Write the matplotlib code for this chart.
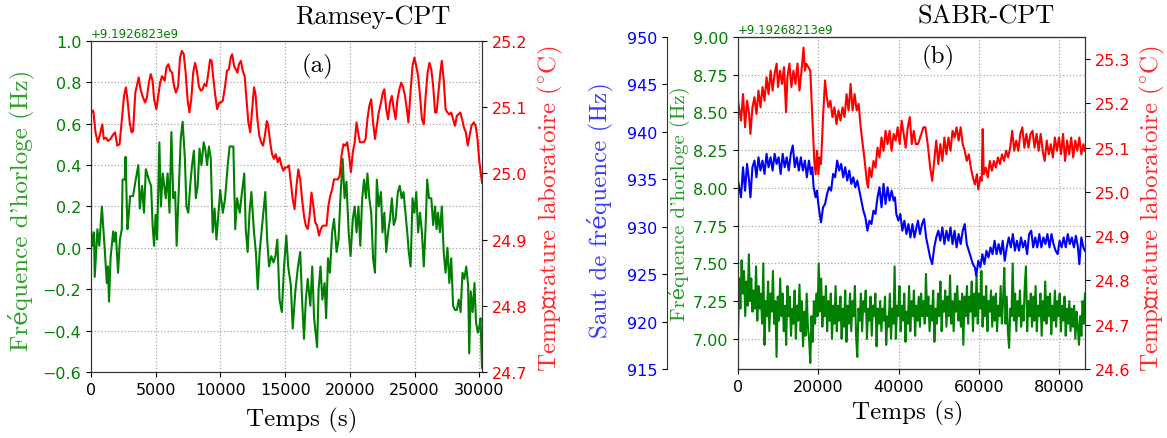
import numpy as np
import matplotlib
matplotlib.use("Agg")
import matplotlib.pyplot as plt
from matplotlib.ticker import MultipleLocator, FixedLocator

plt.rcParams['mathtext.fontset'] = 'cm'
SERIF = ['cmr10', 'DejaVu Serif']

# ---------------- (a) Ramsey-CPT ----------------
F0_RAMSEY = 9192682300.0  # clock frequency reference (Hz)

t_ramsey_clock = [0, 145, 232, 290, 493, 638, 841, 1074, 1219, 1306,
                  1393, 1509, 1712, 1799, 1915, 2089, 2234, 2379, 2437, 2611,
                  2669, 2814, 2930, 3017, 3250, 3453, 3656, 3772, 3946, 4091,
                  4236, 4468, 4642, 4758, 4874, 4990, 5106, 5281, 5397, 5542,
                  5658, 5774, 5919, 6064, 6209, 6354, 6499, 6615, 6789, 6934,
                  7079, 7254, 7370, 7515, 7660, 7805, 7950, 8095, 8240, 8385,
                  8530, 8704, 8820, 8965, 9110, 9255, 9401, 9546, 9691, 9836,
                  9981, 10184, 10358, 10561, 10706, 10996, 11141, 11286, 11490, 11664,
                  11838, 11954, 12099, 12244, 12389, 12592, 12737, 12882, 13027, 13172,
                  13317, 13462, 13608, 13753, 13927, 14101, 14246, 14391, 14565, 14739,
                  14913, 15087, 15232, 15435, 15581, 15784, 15987, 16161, 16306, 16451,
                  16596, 16741, 16944, 17089, 17234, 17466, 17582, 17728, 17873, 18047,
                  18163, 18308, 18453, 18627, 18772, 18975, 19120, 19265, 19439, 19584,
                  19730, 19904, 20049, 20223, 20368, 20513, 20658, 20803, 20948, 21093,
                  21238, 21354, 21499, 21644, 21789, 21935, 22080, 22225, 22399, 22515,
                  22660, 22805, 22950, 23095, 23240, 23385, 23530, 23704, 23850, 23995,
                  24140, 24285, 24430, 24546, 24691, 24836, 24981, 25126, 25271, 25416,
                  25561, 25706, 25851, 25968, 26113, 26287, 26432, 26577, 26693, 26809,
                  26954, 27099, 27244, 27389, 27534, 27679, 27824, 27970, 28115, 28260,
                  28405, 28550, 28695, 28840, 28985, 29130, 29217, 29333, 29478, 29623,
                  29739, 29884, 30000, 30087, 30203]
df_ramsey_clock = [0.09, 0.01, 0.075, -0.14, 0.09, 0.01, 0.20, -0.02, -0.17, -0.09,
                   -0.26, -0.05, 0.08, 0.03, 0.075, -0.12, 0.04, 0.09, 0.33, 0.33,
                   0.44, 0.09, 0.17, 0.25, 0.25, 0.33, 0.40, 0.19, 0.30, 0.17,
                   0.38, 0.33, 0.30, 0.11, 0.01, 0.16, 0.04, 0.51, 0.20, 0.36,
                   0.30, 0.24, 0.36, 0.17, 0.56, 0.24, 0.27, 0.01, 0.30, 0.53,
                   0.61, 0.43, 0.20, 0.17, 0.30, 0.40, 0.47, 0.24, 0.30, 0.48,
                   0.40, 0.51, 0.48, 0.40, 0.49, 0.43, 0.075, 0.19, 0.04, 0.16,
                   0.28, 0.17, 0.24, 0.40, 0.49, 0.49, 0.09, 0.24, 0.17, 0.27,
                   0.36, 0.09, -0.02, 0.17, 0.27, 0.075, -0.02, -0.20, -0.02, 0.075,
                   0.17, 0.27, 0.04, -0.09, -0.04, -0.07, -0.04, 0.04, -0.25, -0.31,
                   -0.09, 0.06, -0.09, -0.18, -0.39, -0.21, -0.09, -0.02, -0.25, -0.44,
                   -0.25, -0.15, -0.28, -0.09, -0.34, -0.48, -0.20, -0.09, -0.25, -0.17,
                   -0.34, -0.05, -0.12, 0.075, 0.14, -0.02, 0.04, 0.24, 0.43, 0.24,
                   0.32, 0.075, -0.04, 0.14, 0.20, 0.075, 0.20, 0.01, 0.24, 0.33,
                   0.24, 0.36, 0.24, 0.17, -0.05, -0.12, 0.33, 0.20, 0.27, 0.075,
                   0.17, -0.02, 0.075, 0.14, 0.24, 0.11, 0.14, 0.27, 0.30, 0.24,
                   0.27, 0.17, 0.075, -0.02, -0.09, 0.24, 0.17, 0.27, 0.075, 0.17,
                   0.075, -0.09, 0.11, 0.33, 0.24, 0.24, 0.11, 0.20, 0.09, 0.17,
                   0.075, 0.20, -0.02, -0.12, 0.0, -0.17, -0.05, -0.28, -0.30, -0.30,
                   -0.25, -0.31, -0.12, -0.15, -0.09, -0.18, -0.51, -0.21, -0.31, -0.17,
                   -0.36, -0.41, -0.38, -0.34, -0.58]

t_ramsey_temp = [0, 174, 348, 522, 696, 870, 986, 1161, 1306, 1509,
                 1654, 1857, 2031, 2205, 2437, 2553, 2698, 2814, 2988, 3134,
                 3250, 3424, 3598, 3685, 3830, 3975, 4178, 4323, 4468, 4613,
                 4758, 4874, 5048, 5194, 5339, 5484, 5687, 5832, 5977, 6122,
                 6267, 6412, 6557, 6731, 6876, 7021, 7166, 7312, 7457, 7602,
                 7747, 7892, 8037, 8182, 8327, 8472, 8617, 8762, 8907, 9052,
                 9197, 9314, 9459, 9604, 9749, 9894, 10039, 10184, 10358, 10503,
                 10648, 10793, 10909, 11054, 11199, 11315, 11432, 11577, 11722, 11867,
                 12012, 12157, 12302, 12447, 12592, 12708, 12853, 12998, 13143, 13288,
                 13433, 13579, 13695, 13840, 13985, 14130, 14275, 14420, 14565, 14710,
                 14855, 15000, 15145, 15290, 15435, 15581, 15726, 15871, 16016, 16161,
                 16306, 16451, 16596, 16741, 16886, 17031, 17176, 17321, 17466, 17611,
                 17757, 17902, 18047, 18192, 18337, 18482, 18627, 18772, 18917, 19062,
                 19207, 19352, 19497, 19642, 19788, 19933, 20078, 20223, 20368, 20513,
                 20629, 20774, 20919, 21064, 21209, 21354, 21499, 21644, 21789, 21935,
                 22080, 22225, 22399, 22544, 22660, 22805, 22950, 23095, 23240, 23385,
                 23530, 23675, 23820, 23966, 24111, 24256, 24401, 24517, 24662, 24836,
                 24981, 25126, 25271, 25416, 25561, 25706, 25851, 25997, 26142, 26287,
                 26432, 26577, 26693, 26838, 26983, 27099, 27244, 27389, 27534, 27679,
                 27824, 27970, 28115, 28260, 28376, 28521, 28666, 28811, 28956, 29101,
                 29246, 29391, 29565, 29710, 29855, 30000, 30203]
temp_ramsey = [25.092, 25.095, 25.062, 25.047, 25.059, 25.074, 25.052, 25.054, 25.049, 25.052,
               25.057, 25.062, 25.042, 25.044, 25.092, 25.117, 25.130, 25.112, 25.077, 25.062,
               25.064, 25.122, 25.137, 25.145, 25.127, 25.117, 25.107, 25.115, 25.137, 25.150,
               25.140, 25.112, 25.097, 25.117, 25.137, 25.147, 25.140, 25.160, 25.165, 25.155,
               25.152, 25.132, 25.122, 25.132, 25.175, 25.185, 25.180, 25.152, 25.112, 25.092,
               25.112, 25.152, 25.167, 25.155, 25.132, 25.125, 25.127, 25.135, 25.132, 25.150,
               25.172, 25.170, 25.142, 25.117, 25.097, 25.107, 25.107, 25.110, 25.132, 25.155,
               25.157, 25.175, 25.180, 25.162, 25.157, 25.152, 25.165, 25.170, 25.155, 25.147,
               25.112, 25.077, 25.062, 25.097, 25.130, 25.120, 25.082, 25.057, 25.047, 25.042,
               25.057, 25.079, 25.072, 25.047, 25.029, 25.022, 25.029, 25.017, 25.024, 25.012,
               25.004, 25.009, 25.009, 25.012, 24.986, 24.961, 24.946, 24.981, 25.006, 24.991,
               24.961, 24.936, 24.921, 24.916, 24.936, 24.971, 24.951, 24.926, 24.921, 24.906,
               24.916, 24.921, 24.921, 24.921, 24.951, 24.966, 24.976, 24.991, 24.991, 24.991,
               24.996, 25.027, 25.044, 25.042, 25.047, 25.027, 25.002, 25.032, 25.047, 25.077,
               25.062, 25.047, 25.047, 25.047, 25.052, 25.082, 25.102, 25.112, 25.077, 25.052,
               25.072, 25.092, 25.107, 25.122, 25.127, 25.097, 25.082, 25.107, 25.117, 25.097,
               25.082, 25.112, 25.127, 25.137, 25.130, 25.117, 25.097, 25.077, 25.117, 25.162,
               25.175, 25.162, 25.147, 25.117, 25.082, 25.074, 25.117, 25.152, 25.167, 25.157,
               25.132, 25.092, 25.092, 25.122, 25.152, 25.170, 25.142, 25.097, 25.092, 25.089,
               25.092, 25.082, 25.072, 25.087, 25.089, 25.092, 25.082, 25.069, 25.062, 25.042,
               25.057, 25.072, 25.077, 25.072, 25.052, 25.017, 24.986]

ramsey_clock_ticks = [-0.6, -0.4, -0.2, 0.0, 0.2, 0.4, 0.6, 0.8, 1.0]

# ---------------- (b) SABR-CPT ----------------
F0_SABR = 9192682130.0  # clock frequency reference (Hz)

# clock frequency, one sample every 300 s
t_sabr_clock = np.arange(0, 86401, 300)
df_sabr_clock = [7.03, 7.40, 7.20, 7.52, 7.30, 7.45, 7.15, 7.38, 7.22, 7.56,
                 7.25, 7.40, 7.18, 7.32, 7.20, 7.48, 7.12, 7.35, 7.20, 7.30,
                 7.10, 7.50, 6.96, 7.25, 7.15, 7.38, 7.05, 7.30, 7.18, 7.45,
                 7.10, 7.25, 6.88, 7.28, 7.12, 7.40, 7.15, 7.30, 7.05, 7.22,
                 6.96, 7.35, 7.15, 7.28, 7.02, 7.20, 7.10, 7.32, 7.00, 7.22,
                 7.12, 7.36, 7.05, 7.25, 6.95, 7.18, 7.02, 7.30, 7.08, 7.00,
                 6.84, 7.15, 6.98, 7.25, 7.10, 7.30, 7.15, 7.50, 7.18, 7.40,
                 7.08, 7.28, 7.15, 7.35, 7.05, 7.25, 7.12, 7.30, 7.00, 7.22,
                 7.10, 7.35, 7.05, 7.22, 7.12, 7.28, 7.00, 7.20, 7.08, 7.32,
                 6.98, 7.22, 7.10, 7.30, 7.05, 7.25, 7.15, 7.35, 7.02, 6.88,
                 7.20, 7.12, 7.30, 7.05, 7.25, 7.18, 7.32, 7.00, 7.20, 7.12,
                 7.28, 7.02, 7.22, 7.15, 7.30, 6.95, 7.20, 7.10, 7.25, 7.05,
                 7.20, 7.12, 7.28, 6.96, 7.15, 7.08, 7.30, 7.00, 7.20, 7.10,
                 7.48, 7.00, 7.22, 7.15,
                 7.35, 7.05, 7.22, 7.12, 7.30, 6.98, 7.18, 7.10, 7.35, 7.05,
                 7.25, 7.15, 7.32, 7.02, 7.22, 7.12, 7.28, 7.08, 7.30, 7.15,
                 7.25, 7.10, 7.43, 7.15, 7.28, 7.05, 7.22, 7.12, 7.32, 6.98,
                 7.20, 7.10, 7.30, 7.15, 7.38, 7.05, 7.25, 7.18, 7.32, 7.08,
                 7.28, 7.15, 7.42, 7.10, 7.25, 7.05, 7.30, 7.18, 7.35, 7.12,
                 7.25, 7.08, 7.30, 6.96, 7.28, 7.15, 7.35, 7.10, 7.28, 7.18,
                 7.38, 7.05, 7.30, 7.15, 7.42, 7.10, 7.30, 7.20, 7.45, 7.08,
                 7.28, 7.15, 7.35, 7.05, 7.25, 7.18, 7.32, 7.08, 7.28, 7.12,
                 7.30, 7.05, 7.22, 7.15, 7.35, 7.10, 7.25, 7.47, 7.10, 7.28,
                 7.05, 6.94, 7.20, 7.15, 7.50, 7.12, 7.30, 7.05, 7.25, 7.15,
                 7.32, 7.08, 7.22, 7.12, 7.35, 7.48, 7.05, 7.25, 7.15, 7.30,
                 7.08, 7.28, 7.12, 7.35, 7.05, 7.22, 7.15, 7.30, 7.02, 7.25,
                 7.12, 7.38, 7.10, 7.28, 7.15, 7.30, 7.03, 7.22, 7.12, 7.32,
                 7.08, 7.25, 7.15, 7.30, 7.05, 7.22, 7.12, 7.28, 7.02, 7.20,
                 7.10, 7.25, 7.05, 7.20, 7.08, 7.22, 7.00, 7.18, 7.08, 6.96,
                 7.15, 7.02, 7.25, 7.10, 7.30]

t_sabr_jump = [0, 749, 1251, 1753, 2256, 2758, 3093, 3595, 4097, 4599,
               5101, 5604, 6106, 6608, 7110, 7612, 8115, 8617, 9119, 9621,
               10123, 10626, 11128, 11630, 12132, 12634, 13137, 13639, 14141, 14643,
               15145, 15648, 16150, 16652, 17154, 17656, 18159, 18493, 18828, 19330,
               19665, 20000, 20335, 20670, 21172, 21674, 22176, 22678, 23181, 23683,
               24185, 24687, 25189, 25692, 26194, 26696, 27198, 27700, 28203, 28705,
               29207, 29709, 30211, 30713, 31216, 31718, 32220, 32722, 33225, 33727,
               34229, 34731, 35233, 35736, 36238, 36740, 37242, 37744, 38247, 38749,
               39084, 39419, 39921, 40423, 40925, 41427, 41930, 42432, 42934, 43436,
               43938, 44440,
               44808, 45314, 45821, 46327, 46834, 47340, 47846, 48353, 48859, 49366,
               49872, 50378, 50885, 51391, 51898, 52404, 52910, 53417, 53923, 54430,
               54936, 55442, 55949, 56455, 56962, 57468, 57974, 58481, 58987, 59325,
               59831, 60338, 60844, 61350, 61857, 62363, 62870, 63376, 63882, 64389,
               64895, 65402, 65908, 66414, 66921, 67427, 67934, 68440, 68946, 69453,
               69959, 70466, 70972, 71478, 71985, 72491, 72998, 73504, 74010, 74517,
               75023, 75530, 76036, 76542, 77049, 77555, 78062, 78568, 79074, 79581,
               80087, 80594, 81100, 81606, 82113, 82619, 83126, 83632, 84138, 84645,
               84982, 85489, 85995, 86333]
jump_sabr = [934.86, 933.10, 936.27, 933.80, 936.62, 934.86, 933.10, 936.27, 936.97, 935.21,
             937.32, 935.92, 936.97, 935.56, 937.68, 936.27, 937.32, 935.92, 937.68, 936.62,
             937.32, 935.56, 937.68, 936.27, 937.32, 935.92, 937.68, 938.56, 936.27, 937.32,
             935.92, 937.32, 935.92, 936.97, 935.21, 936.97, 935.56, 936.27, 934.16, 933.10,
             933.80, 932.39, 931.34, 930.46, 932.04, 932.39, 933.45, 934.16, 933.80, 935.56,
             935.21, 936.97, 935.92, 936.62, 935.21, 936.27, 934.86, 935.92, 934.51, 935.21,
             934.16, 934.86, 933.80, 932.75, 931.69, 930.99, 929.58, 930.64, 930.28, 931.69,
             931.34, 933.10, 934.16, 932.04, 934.51, 932.39, 934.16, 932.75, 933.80, 932.75,
             933.10, 931.34, 930.64, 931.34, 929.58, 930.64, 929.23, 930.28, 928.87, 930.28,
             928.87, 929.93,
             930.64, 929.23, 930.28, 930.81, 928.87, 927.82, 926.76, 926.06, 927.82, 928.87,
             929.58, 928.52, 929.93, 928.17, 929.58, 928.52, 929.93, 928.17, 929.58, 927.82,
             929.23, 928.17, 929.58, 930.28, 928.17, 927.47, 926.76, 926.06, 925.71, 924.83,
             926.41, 925.71, 927.11, 926.06, 927.47, 926.76, 927.82, 927.11, 928.52, 927.11,
             928.17, 927.11, 928.52, 926.41, 927.82, 928.87, 927.82, 929.23, 927.47, 928.52,
             927.47, 928.87, 927.82, 928.52, 927.11, 929.23, 929.58, 927.82, 928.87, 927.82,
             929.23, 927.82, 928.87, 928.17, 929.23, 927.82, 929.23, 928.17, 927.47, 927.11,
             928.52, 927.82, 928.87, 927.82, 929.23, 928.17, 928.87, 927.82, 929.05, 927.82,
             926.06, 928.87, 927.82, 927.47]

t_sabr_temp = [0, 749, 1251, 1753, 2256, 2758, 3093, 3595, 4097, 4599,
               5101, 5604, 6106, 6608, 7110, 7612, 8115, 8617, 9119, 9621,
               9956, 10458, 10960, 11462, 11965, 12300, 12802, 13304, 13806, 14308,
               14811, 15313, 15815, 16317, 16652, 16987, 17489, 17991, 18326, 18661,
               18996, 19330, 19665, 20000, 20335, 20670, 21172, 21674, 22009, 22511,
               23013, 23515, 24018, 24520, 25022, 25524, 26026, 26529, 27031, 27533,
               28035, 28537, 29040, 29542, 30044, 30546, 31048, 31551, 32053, 32388,
               32722, 33225, 33727, 34229, 34731, 35233, 35736, 36238, 36740, 37242,
               37744, 38247, 38749, 39251, 39753, 40255, 40758, 41260, 41762, 42264,
               42766, 43269, 43771, 44273,
               44808, 45652, 46158, 46665, 47340, 47846, 48353, 48859, 49366, 49872,
               50378, 50885, 51391, 51898, 52404, 52910, 53417, 53923, 54430, 54936,
               55442, 55949, 56455, 56962, 57468, 57974, 58481, 58987, 59494, 59831,
               60338, 60675, 60928, 61182, 61688, 62194, 62701, 63207, 63714, 64220,
               64726, 65233, 65739, 66246, 66752, 67258, 67765, 68271, 68778, 69284,
               69790, 70297, 70803, 71310, 71816, 72322, 72829, 73335, 73842, 74348,
               74854, 75361, 75867, 76374, 76880, 77386, 77893, 78399, 78906, 79412,
               79918, 80425, 80931, 81438, 81944, 82450, 82957, 83463, 83970, 84476,
               84982, 85489, 85995, 86333]
temp_sabr = [25.206, 25.161, 25.221, 25.146, 25.206, 25.176, 25.131, 25.191, 25.214, 25.176,
             25.229, 25.191, 25.237, 25.206, 25.259, 25.221, 25.274, 25.229, 25.267, 25.29,
             25.237, 25.274, 25.244, 25.282, 25.18, 25.259, 25.29, 25.237, 25.274, 25.244,
             25.29, 25.229, 25.274, 25.326, 25.274, 25.29, 25.282, 25.274, 25.206, 25.138,
             25.07, 25.04, 25.093, 25.04, 25.078, 25.063, 25.169, 25.252, 25.221, 25.191,
             25.206, 25.169, 25.191, 25.153, 25.184, 25.161, 25.191, 25.169, 25.221, 25.184,
             25.244, 25.184, 25.221, 25.184, 25.199, 25.146, 25.108, 25.07, 25.025, 25.01,
             25.055, 25.033, 25.07, 25.055, 25.1, 25.078, 25.123, 25.093, 25.138, 25.108,
             25.138, 25.093, 25.131, 25.116, 25.146, 25.108, 25.161, 25.131, 25.1, 25.146,
             25.169, 25.108, 25.138, 25.108,
             25.108, 25.131, 25.146, 25.146, 25.1, 25.055, 25.025, 25.07, 25.116, 25.063,
             25.108, 25.07, 25.123, 25.085, 25.123, 25.093, 25.138, 25.123, 25.146, 25.116,
             25.146, 25.108, 25.093, 25.07, 25.085, 25.055, 25.033, 25.017, 25.04, 25.006,
             25.033, 25.025, 25.142, 25.04, 25.055, 25.033, 25.07, 25.048, 25.07, 25.055,
             25.078, 25.063, 25.085, 25.07, 25.093, 25.078, 25.1, 25.138, 25.093, 25.116,
             25.093, 25.131, 25.146, 25.1, 25.131, 25.1, 25.131, 25.138, 25.1, 25.131,
             25.093, 25.131, 25.093, 25.07, 25.116, 25.085, 25.108, 25.078, 25.123, 25.093,
             25.123, 25.085, 25.131, 25.07, 25.116, 25.085, 25.123, 25.078, 25.116, 25.093,
             25.123, 25.085, 25.108, 25.093]

sabr_clock_ticks = [7.00, 7.25, 7.50, 7.75, 8.00, 8.25, 8.50, 8.75, 9.00]

# ---------------- styling ----------------
GREEN = 'green'
GREEN_LABEL = '#2ca02c'
GREEN_LABEL_B = '#229a22'
RED = 'red'
RED_LABEL = '#ff2a2a'
BLUE = 'blue'
BLUE_LABEL = '#3b3bff'
SPINE = '#333333'
TICK_FS = 11.5
LABEL_FS = 18
TEMP_LABEL = r'Température laboratoire $(^{\circ}\mathrm{C})$'

W, H = 1167, 439
fig = plt.figure(figsize=(W / 100, H / 100), dpi=100)


def style_spines(ax):
    for s in ax.spines.values():
        s.set_color(SPINE)


def grid(ax):
    ax.grid(True, linestyle=':', color='#a8a8a8', linewidth=0.9)
    ax.set_axisbelow(True)


# ---- panel (a)
axA = fig.add_axes([91 / W, 66 / H, 391 / W, 331 / H])
axA_t = axA.twinx()

axA.plot(t_ramsey_clock, [F0_RAMSEY + v for v in df_ramsey_clock], color=GREEN, lw=1.5)
axA_t.plot(t_ramsey_temp, temp_ramsey, color=RED, lw=1.5)

axA.set_xlim(0, 30203)
axA.set_ylim(F0_RAMSEY - 0.6, F0_RAMSEY + 1.0)
axA.yaxis.set_major_locator(FixedLocator([F0_RAMSEY + v for v in ramsey_clock_ticks]))
axA.xaxis.set_major_locator(MultipleLocator(5000))
axA_t.set_ylim(24.7, 25.2)
axA_t.yaxis.set_major_locator(MultipleLocator(0.1))
grid(axA)

axA.tick_params(axis='y', labelcolor=GREEN, labelsize=TICK_FS)
axA.tick_params(axis='x', labelsize=TICK_FS)
axA_t.tick_params(axis='y', labelcolor=RED, labelsize=TICK_FS)
axA.yaxis.get_offset_text().set_color(GREEN)
axA.yaxis.get_offset_text().set_fontsize(8.5)
style_spines(axA)
style_spines(axA_t)

axA.set_ylabel("Fréquence d'horloge (Hz)", family=SERIF, fontsize=LABEL_FS, color=GREEN_LABEL)
axA.yaxis.label.set_va('center')
axA.yaxis.set_label_coords(-0.179, 0.492)
axA_t.set_ylabel(TEMP_LABEL, family=SERIF, fontsize=LABEL_FS, color=RED_LABEL)
axA_t.yaxis.label.set_va('center')
axA_t.yaxis.set_label_coords(1.176, 0.495)
axA.set_xlabel('Temps (s)', family=SERIF, fontsize=LABEL_FS)
axA.xaxis.label.set_va('center')
axA.xaxis.set_label_coords(0.54, -0.142)
axA.text(0.58, 0.925, '(a)', transform=axA.transAxes, family=SERIF, fontsize=LABEL_FS,
         ha='center', va='center')
fig.text(373 / W, 1 - 17 / H, 'Ramsey-CPT', family=SERIF, fontsize=19, ha='center', va='center')

# ---- panel (b)
axB = fig.add_axes([738 / W, 69 / H, 347 / W, 332 / H])
axB_j = axB.twinx()
axB_t = axB.twinx()

axB_j.spines['left'].set_position(('axes', -0.205))
axB_j.spines['left'].set_visible(True)
axB_j.spines['right'].set_visible(False)
axB_j.yaxis.set_ticks_position('left')
axB_j.yaxis.set_label_position('left')

axB.plot(t_sabr_clock, [F0_SABR + v for v in df_sabr_clock], color=GREEN, lw=1.5)
axB_j.plot(t_sabr_jump, jump_sabr, color=BLUE, lw=1.5)
axB_t.plot(t_sabr_temp, temp_sabr, color=RED, lw=1.5)

axB.set_xlim(0, 86400)
axB.xaxis.set_major_locator(MultipleLocator(20000))
axB.set_ylim(F0_SABR + 6.8, F0_SABR + 9.0)
axB.yaxis.set_major_locator(FixedLocator([F0_SABR + v for v in sabr_clock_ticks]))
axB_j.set_ylim(915, 950)
axB_j.yaxis.set_major_locator(MultipleLocator(5))
axB_t.set_ylim(24.6, 25.35)
axB_t.yaxis.set_major_locator(MultipleLocator(0.1))
grid(axB)

axB.tick_params(axis='y', labelcolor=GREEN, labelsize=TICK_FS)
axB.tick_params(axis='x', labelsize=TICK_FS)
axB_j.tick_params(axis='y', labelcolor=BLUE, labelsize=TICK_FS)
axB_t.tick_params(axis='y', labelcolor=RED, labelsize=TICK_FS)
axB.yaxis.get_offset_text().set_color(GREEN)
axB.yaxis.get_offset_text().set_fontsize(8.5)
for a in (axB, axB_j, axB_t):
    style_spines(a)

axB_j.set_ylabel('Saut de fréquence (Hz)', family=SERIF, fontsize=LABEL_FS, color=BLUE_LABEL)
axB_j.yaxis.label.set_va('center')
axB_j.yaxis.set_label_coords(-0.398, 0.482)
axB.set_ylabel("Fréquence d'horloge (Hz)", family=SERIF, fontsize=15, color=GREEN_LABEL_B)
axB.yaxis.label.set_va('center')
axB.yaxis.set_label_coords(-0.170, 0.50)
axB_t.set_ylabel(TEMP_LABEL, family=SERIF, fontsize=LABEL_FS, color=RED_LABEL)
axB_t.yaxis.label.set_va('center')
axB_t.yaxis.set_label_coords(1.193, 0.485)
axB.set_xlabel('Temps (s)', family=SERIF, fontsize=LABEL_FS)
axB.xaxis.label.set_va('center')
axB.xaxis.set_label_coords(0.49, -0.13)
axB.text(0.576, 0.94, '(b)', transform=axB.transAxes, family=SERIF, fontsize=LABEL_FS,
         ha='center', va='center')
fig.text(986 / W, 1 - 17 / H, 'SABR-CPT', family=SERIF, fontsize=19, ha='center', va='center')

fig.savefig('out.png', dpi=100)
